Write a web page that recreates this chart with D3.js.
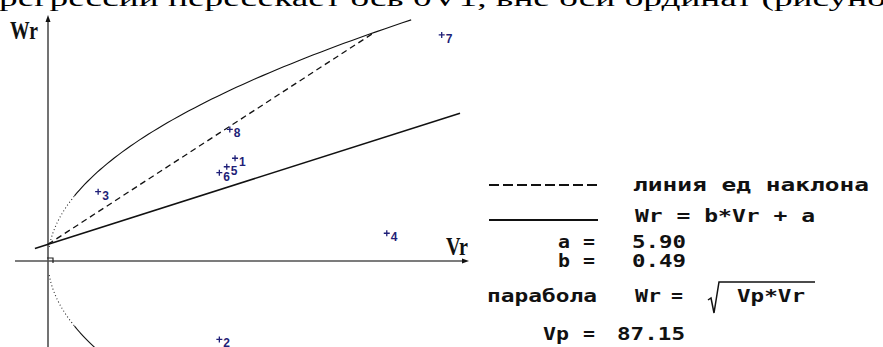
<!DOCTYPE html>
<html>
<head>
<meta charset="utf-8">
<script src="https://cdn.jsdelivr.net/npm/d3@7"></script>
<style>
  body { margin: 0; background: #fff; }
  svg { display: block; }
  .pt-label { font-family: "Liberation Sans", Arial, sans-serif; font-weight: bold; font-size: 12px; fill: #1f1f78; }
  .legend { font-family: "DejaVu Sans Mono", monospace; font-weight: bold; font-size: 18px; fill: #111; }
  .axis-name { font-family: "Liberation Serif", "Times New Roman", serif; font-weight: bold; font-size: 25px; fill: #111; }
  .page-text { font-family: "Liberation Serif", "Times New Roman", serif; font-size: 23px; fill: #000; }
</style>
</head>
<body>
<div id="chart"></div>
<script>
// observations (Vr, Wr), numbered as in the picture
var pointIds = [1, 2, 3, 4, 5, 6, 7, 8];
var vrValues = [42.9, 39.3, 11.5, 77.7, 41.0, 39.3, 90.3, 41.7];
var wrValues = [36.3, -27.7, 24.5, 9.8, 33.3, 31.2, 79.9, 46.5];

// fitted parameters shown in the legend
var coefA = 5.90;
var coefB = 0.49;
var coefVp = 87.15;

// range of each drawn curve (in Vr / Wr units)
var regressionRange = [-3, 94.5];
var parabolaTopWr = 85.2;
var parabolaBottomWr = -31;
var dottedWr = 23;  // parabola looks dotted close to the vertex

var pageLine = "регрессии пересекает ось 0V1, вне оси ординат (рисунок";

var width = 883, height = 347;

var svg = d3.select("#chart").append("svg")
  .attr("width", width)
  .attr("height", height);

var x = d3.scaleLinear().domain([0, 100]).range([48, 484]);
var y = d3.scaleLinear().domain([0, 100]).range([261, -22]);

var line = d3.line()
  .x(function(d) { return x(d[0]); })
  .y(function(d) { return y(d[1]); });

// text of the page above the picture (only its lower part shows)
svg.append("text")
  .attr("class", "page-text")
  .attr("x", -1)
  .attr("y", 5.5)
  .attr("textLength", 905)
  .attr("lengthAdjust", "spacingAndGlyphs")
  .text(pageLine);

// axes
var axisCol = "#505050";
svg.append("line")
  .attr("x1", x(0)).attr("x2", x(0))
  .attr("y1", 20).attr("y2", height)
  .attr("stroke", axisCol).attr("stroke-width", 1.6);
svg.append("path")
  .attr("d", "M" + x(0) + ",15 l-2.5,7 h5 z")
  .attr("fill", "#111");
svg.append("line")
  .attr("x1", 15).attr("x2", 464)
  .attr("y1", y(0)).attr("y2", y(0))
  .attr("stroke", axisCol).attr("stroke-width", 1.6);
svg.append("path")
  .attr("d", "M469," + y(0) + " l-7,-2.5 v5 z")
  .attr("fill", "#111");
// small corner mark at the origin
svg.append("path")
  .attr("d", "M" + (x(0) - 1) + "," + (y(0) - 3) + " h6 v5")
  .attr("fill", "none")
  .attr("stroke", "#222")
  .attr("stroke-width", 1.2);

svg.append("text")
  .attr("class", "axis-name")
  .attr("x", 10).attr("y", 39)
  .attr("textLength", 28)
  .attr("lengthAdjust", "spacingAndGlyphs")
  .text("Wr");
svg.append("text")
  .attr("class", "axis-name")
  .attr("x", 446).attr("y", 255)
  .attr("textLength", 22)
  .attr("lengthAdjust", "spacingAndGlyphs")
  .text("Vr");

// parabola Wr = sqrt(Vp*Vr), both branches
function parabolaPath(w0, w1) {
  var n = 60, pts = [];
  for (var i = 0; i <= n; i++) {
    var w = w0 + (w1 - w0) * i / n;
    pts.push([w * w / coefVp, w]);
  }
  return line(pts);
}
svg.append("path")
  .attr("d", parabolaPath(dottedWr, parabolaTopWr))
  .attr("fill", "none").attr("stroke", "#111").attr("stroke-width", 1.1);
svg.append("path")
  .attr("d", parabolaPath(5, dottedWr))
  .attr("fill", "none").attr("stroke", "#222").attr("stroke-width", 1.1)
  .attr("stroke-dasharray", "1,2.5");
svg.append("path")
  .attr("d", parabolaPath(-5, -dottedWr))
  .attr("fill", "none").attr("stroke", "#222").attr("stroke-width", 1.1)
  .attr("stroke-dasharray", "1,2.5");
svg.append("path")
  .attr("d", parabolaPath(-dottedWr, parabolaBottomWr))
  .attr("fill", "none").attr("stroke", "#111").attr("stroke-width", 1.1);

// regression line Wr = b*Vr + a
svg.append("path")
  .attr("d", line(regressionRange.map(function(v) { return [v, coefB * v + coefA]; })))
  .attr("fill", "none").attr("stroke", "#111").attr("stroke-width", 1.5);

// unit slope line from the intercept to the parabola
var p = coefVp - 2 * coefA;
var vMeet = (p + Math.sqrt(p * p - 4 * coefA * coefA)) / 2;
svg.append("path")
  .attr("d", line([[0, coefA], [vMeet, vMeet + coefA]]))
  .attr("fill", "none").attr("stroke", "#111").attr("stroke-width", 1.3)
  .attr("stroke-dasharray", "6,4");

// numbered points
var ptCol = "#1f1f78";
var ptsg = svg.append("g");
pointIds.forEach(function(id, i) {
  var px = x(vrValues[i]), py = y(wrValues[i]);
  ptsg.append("path")
    .attr("d", "M" + (px - 3) + "," + py + " h6 M" + px + "," + (py - 3) + " v6")
    .attr("stroke", ptCol).attr("stroke-width", 1.3);
  ptsg.append("text")
    .attr("class", "pt-label")
    .attr("x", px + 4)
    .attr("y", py + 8)
    .text(id);
});

// legend on the right
var lg = svg.append("g");
lg.append("line")
  .attr("x1", 489).attr("x2", 598).attr("y1", 185).attr("y2", 185)
  .attr("stroke", "#111").attr("stroke-width", 2)
  .attr("stroke-dasharray", "10,4");
lg.append("line")
  .attr("x1", 489).attr("x2", 598).attr("y1", 220).attr("y2", 220)
  .attr("stroke", "#111").attr("stroke-width", 2);

var legendItems = [
  ["линия ед  наклона", 633, 191],
  ["Wr = b*Vr + a", 635, 222],
  ["a", 558, 248], ["=", 583, 248], [coefA.toFixed(2), 632, 248],
  ["b", 558, 267], ["=", 583, 267], [coefB.toFixed(2), 632, 267],
  ["парабола", 487, 302], ["Wr", 635, 302], ["=", 671, 302], ["Vp*Vr", 737, 302],
  ["Vp", 543, 340], ["=", 583, 340], [coefVp.toFixed(2), 617, 340]
];
var pitch = 14;
legendItems.forEach(function(d) {
  lg.append("text")
    .attr("class", "legend")
    .attr("x", d[1])
    .attr("y", d[2])
    .attr("textLength", d[0].length * pitch - 2)
    .attr("lengthAdjust", "spacingAndGlyphs")
    .text(d[0]);
});
// square root sign for the parabola formula
lg.append("path")
  .attr("d", "M708,300 l3,-2 l3,15 l5,-31 h96")
  .attr("fill", "none").attr("stroke", "#111").attr("stroke-width", 1.5);
</script>
</body>
</html>
